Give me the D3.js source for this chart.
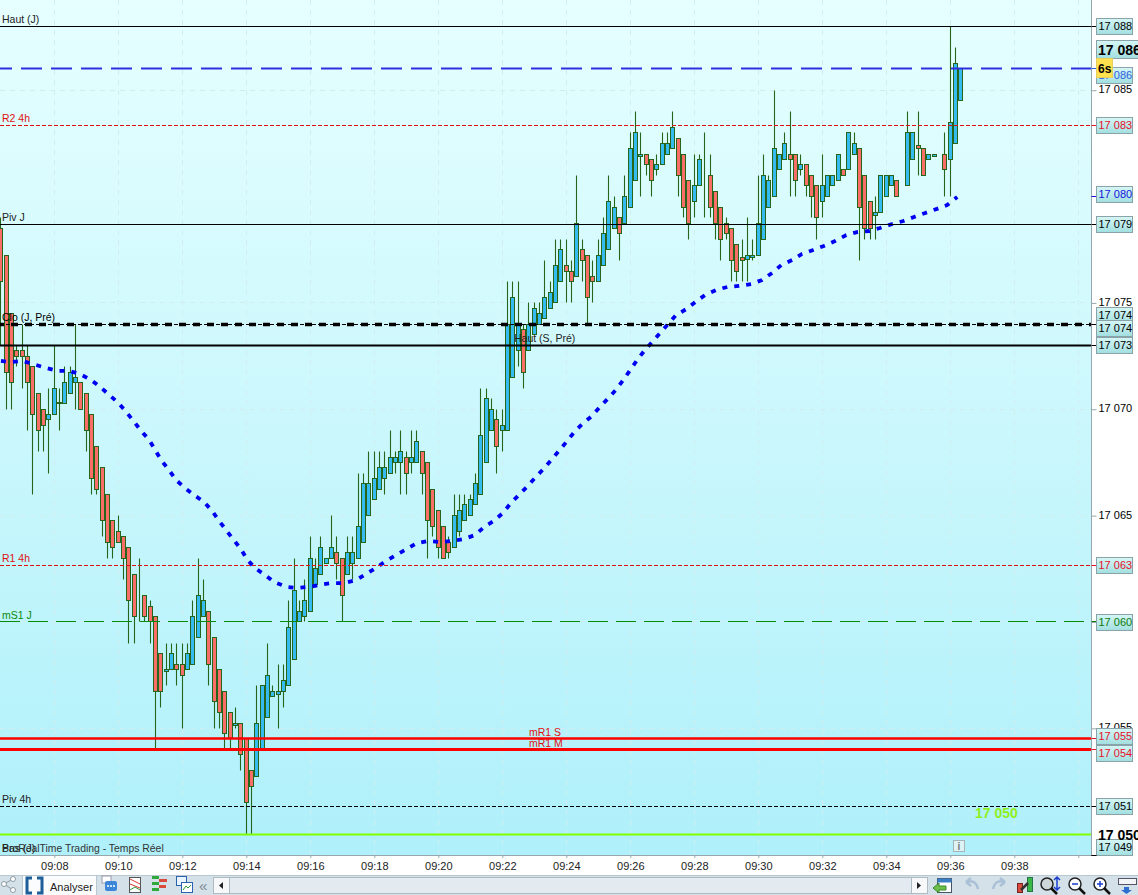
<!DOCTYPE html>
<html>
<head>
<meta charset="utf-8">
<script src="https://cdn.jsdelivr.net/npm/d3@7"></script>
<style>
html, body { margin: 0; padding: 0; background: #fff; overflow: hidden; }
svg { display: block; }
text { font-family: "Liberation Sans", Arial, sans-serif; }
</style>
</head>
<body>
<svg width="1138" height="895"></svg>
<script>
// 10 second candles, first one at 09:06:20. The hole at 169 is in the chart too
var opens = [17078.5,17077.25,17074.5,17072.75,17072.75,17072.5,17072,17070.75,17070,17069.5,
17069.75,17070.3,17070.25,17070.75,17071.25,17071.25,17070.75,17069.75,17068.25,17067.25,
17066,17064.75,17064.25,17064,17063.5,17062.25,17061.25,17061.25,17060.75,17060.25,
17058.5,17057.65,17057.75,17058,17058,17057.75,17058,17059.25,17060.25,17060.5,
17059.25,17057.75,17056.75,17055.75,17055.15,17055.25,17054.5,17053,17052.75,17054,
17055.5,17056.5,17056.6,17056.75,17057,17058.25,17060,17060.25,17060.5,17061.75,
17062.25,17062.75,17063,17063.25,17063,17062.25,17062.75,17063,17063.75,17065,
17065.75,17066.25,17066.75,17067,17067.5,17067.5,17067.75,17067.5,17067.5,17068,
17067.5,17066.25,17065.25,17064.5,17063.75,17063.5,17064.25,17064.75,17065,17065.5,
17066,17067.5,17069,17069.5,17069,17069,17071.5,17072.75,17073.75,17072.75,
17073.5,17074,17074.25,17074.75,17075,17076,17076.75,17076.5,17076.25,17077.5,
17077.25,17076.25,17076,17076.75,17077.5,17078.5,17079,17078.75,17079.5,17080.75,
17081.9,17082,17081.75,17081.25,17081.5,17082,17082.25,17082.75,17082,17080.75,
17079.75,17080.5,17081,17081,17080.25,17079.5,17078.75,17078.5,17077.75,17077.15,
17077.05,17077.15,17077.25,17078,17079.5,17080,17081.25,17081.75,17082,17082,
17081.25,17081.5,17081,17080.5,17079.75,17080,17080.5,17080.75,17081.25,17081.25,
17082,17082.25,17081,17079.75,17079.1,17079.25,17080,17080.5,17080.75,null,
17080.5,17081.75,17082.4,17082.25,17081.75,17081.9,17082,17082,17081.75,17082.5,
17084.5];
var highs = [17079,17077.25,17074.5,17073,17074,17073,17072,17070.75,17070,17071,
17073,17071,17072,17072,17074,17071.25,17070.75,17069.75,17068.25,17067.25,
17066,17064.75,17065,17064,17063.5,17062.25,17063,17061.25,17061,17060.25,
17058.5,17059,17059,17059,17059,17059,17061,17063,17062,17060.5,
17059.25,17057.75,17056.75,17055.75,17056,17055.25,17054.5,17053,17057,17057,
17059,17057,17058,17058,17061,17063,17061,17062,17064,17063,
17064,17063,17065,17064,17063,17064,17064,17067,17067,17068,
17068,17068,17068,17069,17068,17069,17068,17069,17069,17068,
17067.5,17066.25,17065.25,17064.5,17064,17066,17066,17066,17066,17067,
17071,17071,17070.5,17070,17070,17076,17076,17076,17074,17075,
17075,17075,17077,17076,17078,17078,17078,17077,17081,17078,
17077.25,17077,17078,17079,17081,17080,17079,17081,17083,17084,
17083,17082,17081.75,17082,17083,17083,17084,17082.75,17082,17080.75,
17082,17082,17083,17082,17080.25,17079.5,17079,17078.5,17077.75,17078,
17079,17078,17081,17082,17081,17085,17082,17083,17084,17082,
17082,17081.5,17081,17080.5,17082,17081,17081,17082,17081.25,17083,
17083,17082.25,17081,17079.75,17080,17081,17081,17081,17080.75,null,
17084,17083,17084,17082.25,17082,17082,17082,17083,17088,17087,
17086];
var lows = [17073,17070,17070,17072,17071,17069,17066,17068,17068,17067,
17069.75,17069,17070.25,17070.75,17070,17070,17068,17066,17066,17064,
17063,17063,17063.75,17062,17059,17059,17060,17060,17059,17054,
17056,17057,17057.75,17057,17055,17057.75,17058,17059.25,17060.25,17057,
17055,17055,17054,17054,17055,17053,17050,17050,17052.75,17054,
17055.5,17056.5,17055,17056,17057,17058.25,17060,17060,17060.5,17061.75,
17062.25,17062.75,17063,17062,17060,17062.25,17062,17063,17063.75,17065,
17065.75,17066.25,17066,17067,17067,17066,17066,17067,17067.5,17066,
17063,17064,17063,17063,17063,17063.5,17064,17064.75,17065,17065.5,
17066,17067.5,17069,17067,17068,17069,17071.5,17072,17071,17072.75,
17073.5,17074,17074.25,17074.75,17075,17076,17075,17075,17076.25,17076,
17074,17075,17076,17076.75,17077.5,17078.5,17077,17078.75,17079.5,17080.75,
17080,17081,17080,17081,17081.5,17082,17082.25,17080,17079,17078,
17079,17080.5,17079,17079,17078,17077,17078,17076,17076,17076,
17076,17077,17077.25,17078,17079.5,17080,17081.25,17081.75,17080,17080,
17081,17080,17079,17078,17079,17080,17080.5,17080.75,17081,17081.25,
17082,17077,17078,17078,17078,17079.25,17080,17080.5,17080,null,
17080.5,17081.75,17081,17081,17081.75,17081.9,17082,17080,17080,17082.5,
17084.5];
var closes = [17076,17071.75,17071.25,17072.5,17072.5,17071.25,17069.75,17069,17069.25,17069.75,
17071,17070.25,17071.25,17071.75,17071.5,17070,17069,17066.75,17066.25,17064.75,
17063.75,17063.5,17063.75,17063,17061,17060.25,17061.25,17060.25,17060,17056.75,
17056.75,17057.75,17058.5,17057.75,17057.5,17058.5,17060.25,17061.25,17061,17058,
17056.25,17055.75,17054.75,17054.5,17055.25,17053.75,17051.5,17052.25,17055.25,17057,
17057.5,17056.75,17056.75,17057.25,17059.75,17061.5,17060.5,17061,17063,17062.5,
17063.5,17063,17063.5,17062.75,17061.25,17063.25,17063.25,17064.5,17066.5,17066.5,
17066.75,17067.25,17067.25,17067.75,17067.75,17068,17067,17067.75,17068.5,17067,
17064.75,17064.5,17063.5,17063,17063.25,17065,17065.25,17065.5,17065.75,17066.5,
17068.75,17070.5,17070,17068.25,17069.25,17074,17075.25,17074,17071.75,17074,
17074.75,17074.5,17075.25,17075.5,17076.75,17077.5,17076.5,17076,17078.75,17077,
17075.25,17076,17077.25,17078.25,17079.75,17079.5,17078.25,17080,17082.25,17083,
17082,17081.5,17080.75,17081.5,17082.5,17082.5,17083.25,17081,17079.5,17078.75,
17080.5,17081.75,17081,17079.5,17078.75,17078,17078.25,17077,17076.5,17077,
17077.25,17077.25,17078.75,17081,17080.75,17082.25,17082,17082.5,17081.75,17080.75,
17081.5,17080.5,17080,17079,17080.5,17081,17081,17082,17081,17083,
17082.5,17079.5,17078.5,17078.5,17079.25,17081,17081,17081,17080,null,
17083,17083,17082.25,17081,17082,17082,17082,17081.25,17083.5,17086.25,
17086];

// blue moving average, position counted in candles from the first one
var avgIndex = [0,1.7,4,6,8.3,10.5,12.8,14.8,16.9,18.6,20.3,22,23.5,25,26.3,27.8,28.9,30,31.5,32.8,
34.5,36.2,38.1,39.6,40.9,42.2,43.5,45,46.1,47.6,49.5,51.2,53.5,55.5,57.8,60,62.1,64.3,66.6,68.5,
70.3,72.2,74.1,76.1,78,80.1,82.3,84.6,86.8,88.9,90.6,92.4,94.1,95.6,97.1,98.6,100.1,101.7,103.2,104.6,
106,107.5,109,110.8,112.3,113.9,115.3,116.7,118,119.3,120.6,122.1,123.6,125.1,126.6,128.5,130.2,132,134.1,136.2,
138.4,140.7,142.7,144.6,146.3,148.4,150.2,152.3,154.3,156.4,158.5,160.5,162.8,164.8,167.1,169.2,171.2,173.3,175.5,177.4,179.3];
var avgValues = [17072.27,17072.22,17072.27,17072.13,17071.95,17071.81,17071.8,17071.66,17071.38,17071.05,17070.67,17070.3,17069.87,17069.4,17068.98,17068.56,17068.09,17067.62,17067.15,17066.68,
17066.3,17065.97,17065.64,17065.22,17064.75,17064.33,17063.9,17063.43,17062.96,17062.54,17062.21,17061.88,17061.65,17061.6,17061.65,17061.76,17061.83,17061.83,17061.97,17062.26,
17062.54,17062.87,17063.15,17063.43,17063.71,17063.81,17063.76,17063.81,17063.9,17064.09,17064.47,17064.75,17065.12,17065.59,17065.97,17066.35,17066.77,17067.19,17067.62,17068.04,
17068.46,17068.93,17069.31,17069.68,17070.11,17070.53,17070.91,17071.38,17071.85,17072.32,17072.74,17073.16,17073.59,17074.01,17074.43,17074.71,17075.04,17075.37,17075.61,17075.75,
17075.8,17075.89,17076.08,17076.41,17076.78,17077.02,17077.3,17077.49,17077.68,17077.91,17078.19,17078.33,17078.38,17078.52,17078.71,17078.85,17079.04,17079.23,17079.42,17079.6,17079.98];

var priceTicks = [17085, 17075, 17070, 17065, 17060, 17055];
var timeTicks = ["09:08","09:10","09:12","09:14","09:16","09:18","09:20","09:22","09:24","09:26","09:28","09:30","09:32","09:34","09:36","09:38","09:40"];

var levelNames = ["Haut (J)","","R2 4h","Piv J","Clo (J, Pré)","","Haut (S, Pré)","R1 4h","mS1 J","mR1 S","mR1 M","Piv 4h",""];
var levelValues = [17088,17086,17083.35,17078.7,17074,17074,17073.02,17062.66,17060,17054.5,17054,17051.33,17050];
var levelTags = ["17 088","17 086","17 083","17 079","17 074","17 074","17 073","17 063","17 060","17 055","17 054","17 051",""];

var svg = d3.select("svg"),
    width = +svg.attr("width"),
    height = +svg.attr("height");

var panelRight = 1091.5, panelBottom = 855;
var parseTime = d3.timeParse("%H:%M");

var x = d3.scaleTime()
    .domain([parseTime("09:08"), parseTime("09:38")])
    .range([54.3, 1014.3]);
var y = d3.scaleLinear()
    .domain([17085, 17050])
    .range([90.2, 834.7]);

function candleTime(i) {
    return new Date(parseTime("09:08").getTime() + (i - 10) * 10000);
}
function snap(v) { return Math.floor(v) + 0.5; }
function spaced(v) { return String(Math.round(v)).replace(/(\d{2})(\d{3})/, "$1 $2"); }

var defs = svg.append("defs");
var panelFill = defs.append("linearGradient").attr("id", "panelFill")
    .attr("x1", 0).attr("y1", 0).attr("x2", 0).attr("y2", 1);
panelFill.append("stop").attr("offset", "0%").attr("stop-color", "#e6ffff");
panelFill.append("stop").attr("offset", "100%").attr("stop-color", "#aff0fa");
var tagFill = defs.append("linearGradient").attr("id", "tagFill")
    .attr("x1", 0).attr("y1", 0).attr("x2", 0).attr("y2", 1);
tagFill.append("stop").attr("offset", "0%").attr("stop-color", "#d6f6f6");
tagFill.append("stop").attr("offset", "100%").attr("stop-color", "#a2dfe0");
defs.append("clipPath").attr("id", "panelClip").append("rect")
    .attr("width", panelRight).attr("height", panelBottom);

svg.append("rect").attr("width", width).attr("height", height).attr("fill", "#fff");
svg.append("rect").attr("width", panelRight).attr("height", panelBottom).attr("fill", "url(#panelFill)");

var panel = svg.append("g").attr("clip-path", "url(#panelClip)");

// Grid
var gridColor = "#d2edf0";
panel.selectAll(".gridx").data(timeTicks).enter().append("line")
    .attr("x1", function(d) { return snap(x(parseTime(d))); })
    .attr("x2", function(d) { return snap(x(parseTime(d))); })
    .attr("y1", 0).attr("y2", panelBottom)
    .attr("stroke", gridColor).attr("stroke-dasharray", "5,5");
panel.selectAll(".gridy").data(priceTicks).enter().append("line")
    .attr("x1", 0).attr("x2", panelRight)
    .attr("y1", function(d) { return snap(y(d)); })
    .attr("y2", function(d) { return snap(y(d)); })
    .attr("stroke", gridColor).attr("stroke-dasharray", "5,5");

// Candles
var candleData = d3.range(opens.length).filter(function(i) { return opens[i] !== null; });
var candle = panel.selectAll(".candle").data(candleData).enter().append("g").attr("class", "candle");
var edge = "#27661a";

candle.append("line")
    .attr("x1", function(i) { return snap(x(candleTime(i))); })
    .attr("x2", function(i) { return snap(x(candleTime(i))); })
    .attr("y1", function(i) { return snap(y(highs[i])); })
    .attr("y2", function(i) { return snap(y(lows[i])); })
    .attr("stroke", edge)
    .attr("stroke-width", 1.1);

candle.append("rect")
    .attr("x", function(i) { return snap(x(candleTime(i))) - 2; })
    .attr("width", 4)
    .attr("y", function(i) { return snap(y(Math.max(opens[i], closes[i]))); })
    .attr("height", function(i) {
        return snap(y(Math.min(opens[i], closes[i]))) - snap(y(Math.max(opens[i], closes[i])));
    })
    .attr("fill", function(i) { return closes[i] < opens[i] ? "#fa6e68" : "#34bcf0"; })
    .attr("stroke", edge)
    .attr("stroke-width", 1)
    .attr("shape-rendering", "crispEdges");

// Level lines, index matches levelValues
var levelStyles = [
    {color: "#000", w: 1},
    {color: "#2f2fe0", w: 2.2, dash: "21,9", off: 9},
    {color: "#e01010", w: 1, dash: "4,2", text: "#e01010"},
    {color: "#000", w: 1},
    {color: "#000", w: 3.4, dash: "7,7", off: 3, text: "#000"},
    {color: "#000", w: 1, dash: "4,2"},
    {color: "#000", w: 2},
    {color: "#e01010", w: 1, dash: "4,2", text: "#e01010"},
    {color: "#0a8a0a", w: 1, dash: "20,8", text: "#0a8a0a"},
    {color: "#ff0000", w: 2.5, text: "#e01010"},
    {color: "#ff0000", w: 3, text: "#e01010"},
    {color: "#000", w: 1, dash: "4,2"},
    {color: "#80ff00", w: 2}
];
var nameX = [2, 2, 2, 2, 2, 2, 514, 2, 2, 529, 529, 2, 2];
var tagY = [26, 75, 125, 224, 315, 328, 345, 565, 622, 736, 753, 806, 0];
var tagColors = ["#000","#2f5fe0","#e8102a","#000","#000","#000","#000","#e8102a","#0a7a0a","#e8102a","#e8102a","#000","#000"];

// moving average under the levels
var avgLine = d3.line()
    .x(function(d, i) { return x(candleTime(d)); })
    .y(function(d, i) { return y(avgValues[i]); });
panel.append("path")
    .attr("d", avgLine(avgIndex))
    .attr("fill", "none")
    .attr("stroke", "#0000f0")
    .attr("stroke-width", 3.8)
    .attr("stroke-dasharray", "5,7");

levelValues.forEach(function(v, i) {
    var s = levelStyles[i];
    panel.append("line")
        .attr("x1", 0).attr("x2", panelRight)
        .attr("y1", snap(y(v))).attr("y2", snap(y(v)))
        .attr("stroke", s.color)
        .attr("stroke-width", s.w)
        .attr("stroke-dasharray", s.dash || null)
        .attr("stroke-dashoffset", s.off || 0);
    if (levelNames[i]) {
        panel.append("text")
            .attr("x", nameX[i])
            .attr("y", y(v) - 3)
            .attr("font-size", "10.5px")
            .attr("fill", s.text || "#222")
            .text(levelNames[i]);
    }
});

panel.append("text").attr("x", 975).attr("y", 818)
    .attr("font-size", "14px").attr("font-weight", "bold").attr("fill", "#8df01e")
    .text("17 050");
panel.append("text").attr("x", 2).attr("y", 852)
    .attr("font-size", "10.4px").attr("fill", "#333")
    .text("ProRealTime Trading - Temps Réel");
panel.append("text").attr("x", 2).attr("y", 852)
    .attr("font-size", "10.5px").attr("fill", "#222")
    .text("Bas (J)");

// info box
panel.append("rect").attr("x", 953.5).attr("y", 840.5).attr("width", 11).attr("height", 11)
    .attr("fill", "#dff3f5").attr("stroke", "#a5b5b8");
panel.append("text").attr("x", 959).attr("y", 850).attr("text-anchor", "middle")
    .attr("font-size", "10px").attr("font-weight", "bold").attr("fill", "#777").text("i");

// Panel borders
svg.append("line").attr("x1", panelRight).attr("x2", panelRight).attr("y1", 0).attr("y2", panelBottom)
    .attr("stroke", "#97a7ad").attr("stroke-width", 1);
svg.append("line").attr("x1", 0).attr("x2", panelRight).attr("y1", panelBottom + 0.5).attr("y2", panelBottom + 0.5)
    .attr("stroke", "#97a7ad");

// Time axis
var timeAxis = d3.axisBottom(x)
    .tickValues(timeTicks.map(parseTime))
    .tickSize(3)
    .tickFormat(function(d) { return d3.timeFormat("%H:%M")(d) === "09:40" ? "" : d3.timeFormat("%H:%M")(d); });
var timeG = svg.append("g").attr("transform", "translate(0," + panelBottom + ")").call(timeAxis);
timeG.select(".domain").remove();
timeG.selectAll("line").attr("stroke", "#97a7ad");
timeG.selectAll("text").attr("font-size", "11px").attr("fill", "#222")
    .attr("font-family", "Liberation Sans, Arial, sans-serif").attr("y", 7);

// Price axis
var priceAxis = d3.axisRight(y).tickValues(priceTicks).tickSize(5).tickFormat(spaced);
var priceG = svg.append("g").attr("transform", "translate(" + panelRight + ",0)").call(priceAxis);
priceG.select(".domain").remove();
priceG.selectAll("line").attr("stroke", "#97a7ad");
priceG.selectAll("text").attr("font-size", "11px").attr("fill", "#000")
    .attr("font-family", "Liberation Sans, Arial, sans-serif").attr("x", 7).attr("dy", "0.24em");

function priceTag(level, center, label, color) {
    svg.append("line")
        .attr("x1", panelRight).attr("x2", panelRight + 5)
        .attr("y1", snap(level)).attr("y2", snap(level))
        .attr("stroke", color).attr("stroke-width", 1);
    svg.append("rect")
        .attr("x", 1096.5).attr("y", Math.round(center - 8) + 0.5)
        .attr("width", 36).attr("height", 16)
        .attr("fill", "url(#tagFill)").attr("stroke", "#8aa3a8");
    svg.append("text")
        .attr("x", 1098.5).attr("y", center + 4)
        .attr("font-size", "11px").attr("fill", color)
        .text(label);
}

levelValues.forEach(function(v, i) {
    if (levelTags[i]) priceTag(y(v), tagY[i], levelTags[i], tagColors[i]);
});
// average tag and the bottom of the scale
priceTag(y(avgValues[avgValues.length - 1]), 194, spaced(avgValues[avgValues.length - 1]), "#1414e0");
priceTag(panelBottom, 847, "17 049", "#000");
svg.append("line").attr("x1", panelRight).attr("x2", panelRight + 5)
    .attr("y1", panelBottom + 0.5).attr("y2", panelBottom + 0.5).attr("stroke", "#000");

// Last price, bold, and the candle countdown
svg.append("rect").attr("x", 1096.5).attr("y", 40.5).attr("width", 42).attr("height", 18)
    .attr("fill", "url(#tagFill)").attr("stroke", "#8aa3a8");
svg.append("text").attr("x", 1098).attr("y", 55).attr("font-size", "14px").attr("font-weight", "bold")
    .text("17 086");
svg.append("rect").attr("x", 1096.5).attr("y", 58.5).attr("width", 16).attr("height", 19)
    .attr("fill", "#ffe14f").attr("stroke", "#e6cf5a");
svg.append("text").attr("x", 1098).attr("y", 73).attr("font-size", "12px").attr("font-weight", "bold")
    .text("6s");
svg.append("text").attr("x", 1098).attr("y", 840).attr("font-size", "14px").attr("font-weight", "bold")
    .text("17 050");

// Toolbar along the bottom of the window
var bar = svg.append("g").attr("transform", "translate(0,875)");
bar.append("rect").attr("width", width).attr("height", 20).attr("fill", "#d5e1e8");
bar.append("line").attr("x1", 0).attr("x2", width).attr("y1", 0.5).attr("y2", 0.5).attr("stroke", "#b9c7cf");

// share
bar.append("path").attr("d", "M4,9 L13,4 M4,9 L13,15").attr("stroke", "#8c9aa2").attr("fill", "none");
bar.selectAll(".share").data([[4,9],[13,4],[13,15]]).enter().append("circle")
    .attr("cx", function(d) { return d[0]; }).attr("cy", function(d) { return d[1]; }).attr("r", 2.5)
    .attr("fill", "#fff").attr("stroke", "#8c9aa2");
// Analyser button
bar.append("rect").attr("x", 22.5).attr("y", 0.5).attr("width", 74).attr("height", 20).attr("fill", "#fbfcfd").attr("stroke", "#b9c7cf");
bar.append("path").attr("d", "M32,3 H27 V18 H32 M37,3 H42 V18 H37").attr("fill", "none").attr("stroke", "#1c5f9a").attr("stroke-width", 3);
bar.append("text").attr("x", 50).attr("y", 16).attr("font-size", "11px").attr("fill", "#222").text("Analyser");
// icons
bar.append("rect").attr("x", 102).attr("y", 1).attr("width", 9).attr("height", 7).attr("fill", "#fff").attr("stroke", "#99a");
bar.append("rect").attr("x", 105).attr("y", 6).attr("width", 12).attr("height", 10).attr("rx", 2).attr("fill", "#3b86d8");
bar.append("path").attr("d", "M107,11 h8").attr("stroke", "#fff").attr("stroke-width", 1.5).attr("stroke-dasharray", "2,1");
bar.append("rect").attr("x", 129.5).attr("y", 2.5).attr("width", 11).attr("height", 15).attr("fill", "#fff").attr("stroke", "#555");
bar.append("path").attr("d", "M130,4 l10,5 M130,9 l10,4").attr("stroke", "#d33");
bar.append("path").attr("d", "M130,15 l5,-3 l5,3").attr("stroke", "#2a9a3a").attr("fill", "none");
bar.selectAll(".bars").data([[152,1,7,"#2fa83c"],[159,4,8,"#d94b3b"],[152,7,7,"#2fa83c"],[159,10,7,"#d94b3b"],[152,13,7,"#2fa83c"]]).enter().append("rect")
    .attr("x", function(d) { return d[0]; }).attr("y", function(d) { return d[1]; })
    .attr("width", function(d) { return d[2]; }).attr("height", 3).attr("fill", function(d) { return d[3]; });
bar.append("rect").attr("x", 176.5).attr("y", 1.5).attr("width", 10).attr("height", 9).attr("fill", "#e8f4ff").attr("stroke", "#2a62b0");
bar.append("rect").attr("x", 181.5).attr("y", 7.5).attr("width", 11).attr("height", 10).attr("fill", "#fff").attr("stroke", "#2a62b0");
bar.append("path").attr("d", "M183,15 l3,-4 l2,2 l3,-3").attr("stroke", "#2a9a3a").attr("fill", "none");
bar.append("text").attr("x", 199).attr("y", 16).attr("font-size", "15px").attr("fill", "#7d8b93").text("«");
// scrollbar
bar.append("rect").attr("x", 213.5).attr("y", 2.5).attr("width", 710).attr("height", 16).attr("fill", "#e3ebf0").attr("stroke", "#aebbc3");
bar.append("rect").attr("x", 213.5).attr("y", 2.5).attr("width", 16).attr("height", 16).attr("fill", "#f6f8fa").attr("stroke", "#aebbc3");
bar.append("rect").attr("x", 911.5).attr("y", 2.5).attr("width", 16).attr("height", 16).attr("fill", "#f6f8fa").attr("stroke", "#aebbc3");
bar.append("path").attr("d", "M223,7 l-4,3.5 l4,3.5 Z M917,7 l4,3.5 l-4,3.5 Z").attr("fill", "#222");
// calendar and undo/redo
bar.append("rect").attr("x", 937.5).attr("y", 3.5).attr("width", 14).attr("height", 14).attr("fill", "#fff").attr("stroke", "#456");
bar.append("rect").attr("x", 937.5).attr("y", 3.5).attr("width", 14).attr("height", 4).attr("fill", "#3a7fc6");
bar.append("path").attr("d", "M933,13 l6,-5 v3 h7 v4 h-7 v3 Z").attr("fill", "#6cc04a").attr("stroke", "#3c8a2c");
bar.append("path").attr("d", "M966,7 q10,-3 12,7 M966,7 l5,-4 M966,7 l5,4").attr("fill", "none").attr("stroke", "#a9c0d6").attr("stroke-width", 2.5);
bar.append("path").attr("d", "M1005,7 q-10,-3 -12,7 M1005,7 l-5,-4 M1005,7 l-5,4").attr("fill", "none").attr("stroke", "#a9c0d6").attr("stroke-width", 2.5);
// chart tools
bar.append("rect").attr("x", 1017.5).attr("y", 8.5).attr("width", 5).attr("height", 9).attr("fill", "#d94b3b").attr("stroke", "#722");
bar.append("rect").attr("x", 1027.5).attr("y", 2.5).attr("width", 5).attr("height", 14).attr("fill", "#3cb84a").attr("stroke", "#274");
bar.append("path").attr("d", "M1021,15 l7,-7").attr("stroke", "#333").attr("stroke-width", 2.5);
bar.selectAll(".lens").data([[1047,"#cfd6da"],[1075,"#fff"],[1100,"#fff"]]).enter().append("circle")
    .attr("cx", function(d) { return d[0]; }).attr("cy", 9).attr("r", 6)
    .attr("fill", function(d) { return d[1]; }).attr("stroke", "#222").attr("stroke-width", 1.5);
bar.selectAll(".handle").data([1047,1075,1100]).enter().append("line")
    .attr("x1", function(d) { return d + 4; }).attr("x2", function(d) { return d + 10; })
    .attr("y1", 13).attr("y2", 19).attr("stroke", "#111").attr("stroke-width", 2.5);
bar.append("path").attr("d", "M1057,3 v11 M1054,5 l3,-3 l3,3 M1054,12 l3,3 l3,-3 M1072,9 h6 M1097,9 h6 M1100,6 v6").attr("stroke", "#1b3fd0").attr("fill", "none").attr("stroke-width", 1.5);
bar.append("rect").attr("x", 1118.5).attr("y", 3.5).attr("width", 18).attr("height", 6).attr("fill", "#f2f5f7").attr("stroke", "#556");
bar.append("path").attr("d", "M1124,12 h5 v3 h3 l-5.5,4 l-5.5,-4 h3 Z").attr("fill", "#2d6fd0");
</script>
</body>
</html>
